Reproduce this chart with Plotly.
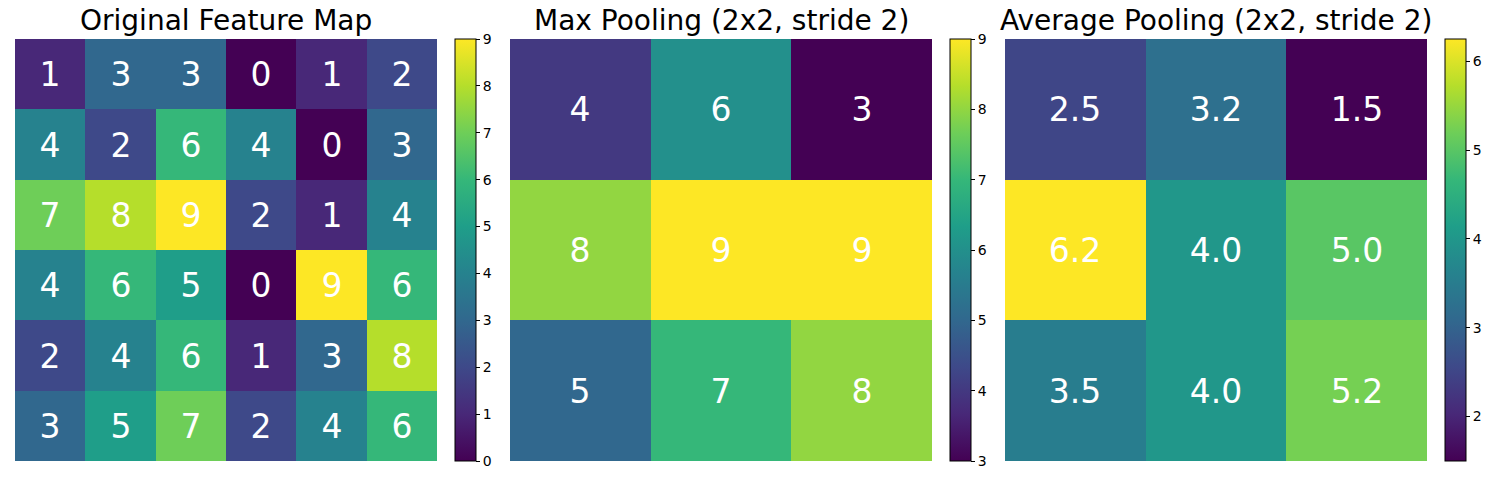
import plotly.graph_objects as go

original = [
    [1, 3, 3, 0, 1, 2],
    [4, 2, 6, 4, 0, 3],
    [7, 8, 9, 2, 1, 4],
    [4, 6, 5, 0, 9, 6],
    [2, 4, 6, 1, 3, 8],
    [3, 5, 7, 2, 4, 6],
]
max_pool = [
    [4, 6, 3],
    [8, 9, 9],
    [5, 7, 8],
]
avg_pool = [
    [2.5, 3.25, 1.5],
    [6.25, 4.0, 5.0],
    [3.5, 4.0, 5.25],
]
avg_labels = [
    ["2.5", "3.2", "1.5"],
    ["6.2", "4.0", "5.0"],
    ["3.5", "4.0", "5.2"],
]
titles = ["Original Feature Map", "Max Pooling (2x2, stride 2)", "Average Pooling (2x2, stride 2)"]

OFF = 8  # page body margin
W, H = 1500 - 2 * OFF, 500 - 2 * OFF
top, bottom = 39 - OFF, 461 - OFF
plot_x = [(15 - OFF, 437 - OFF), (510 - OFF, 932 - OFF), (1005 - OFF, 1427 - OFF)]
cbar_x = [455 - OFF, 950 - OFF, 1445 - OFF]
title_bottom = 38 - OFF

mats = [original, max_pool, avg_pool]
texts = [[[str(v) for v in r] for r in original],
         [[str(v) for v in r] for r in max_pool],
         avg_labels]

fig = go.Figure()
layout = dict(
    width=W, height=H, margin=dict(l=0, r=0, t=0, b=0),
    paper_bgcolor="white", plot_bgcolor="white",
    font=dict(family="DejaVu Sans", color="black"),
    annotations=[],
)
for i, (m, t) in enumerate(zip(mats, texts)):
    n = len(m)
    ax = "" if i == 0 else str(i + 1)
    fig.add_trace(go.Heatmap(
        z=m, text=t, texttemplate="%{text}",
        textfont=dict(size=33, color="white", family="DejaVu Sans"),
        colorscale="Viridis", xgap=0, ygap=0,
        xaxis="x" + ax, yaxis="y" + ax, hoverinfo="skip",
        colorbar=dict(
            x=cbar_x[i] / W, xanchor="left", xpad=0, ypad=0,
            y=1 - (top + bottom) / 2 / H, yanchor="middle", len=bottom - top, lenmode="pixels",
            thickness=21, thicknessmode="pixels",
            outlinewidth=1, outlinecolor="black",
            ticks="outside", ticklen=4, tickcolor="black", tickwidth=1,
            dtick=1, tickfont=dict(size=14, color="black", family="DejaVu Sans"),
        ),
    ))
    x0, x1 = plot_x[i]
    layout["xaxis" + ax] = dict(domain=[x0 / W, x1 / W], range=[-0.5, n - 0.5],
                                visible=False, anchor="y" + ax)
    layout["yaxis" + ax] = dict(domain=[1 - bottom / H, 1 - top / H], range=[n - 0.5, -0.5],
                                visible=False, anchor="x" + ax)
    layout["annotations"].append(dict(
        text=titles[i], x=(x0 + x1) / 2 / W, y=1 - title_bottom / H, xref="paper", yref="paper",
        xanchor="center", yanchor="bottom", showarrow=False, borderpad=0,
        font=dict(size=28, color="black", family="DejaVu Sans"),
    ))
fig.update_layout(**layout)
fig.write_html("out.html")
